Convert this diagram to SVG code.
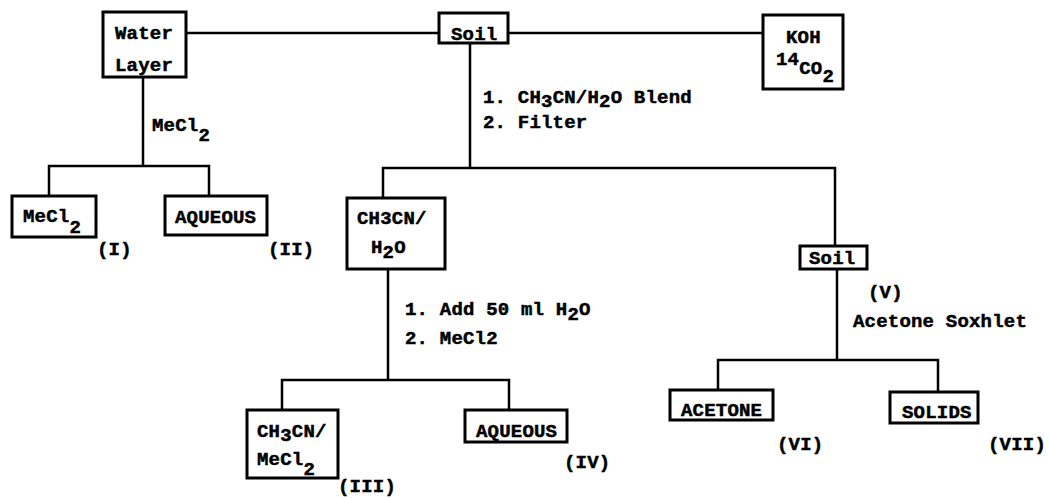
<svg xmlns="http://www.w3.org/2000/svg" width="1049" height="498" viewBox="0 0 1049 498">
<style>
.box{fill:#fff;stroke:#000;stroke-width:3}
.ln{fill:none;stroke:#000;stroke-width:2.5;stroke-linecap:square}
text{font-family:"Liberation Mono","DejaVu Sans Mono",monospace;font-weight:bold;font-size:19px;letter-spacing:0.2px;fill:#000;stroke:#000;stroke-width:0.5px}
</style>
<rect width="1049" height="498" fill="#fff"/>
<g id="connectors">
<path class="ln" d="M186 33H439M508 33H763"/>
<path class="ln" d="M143 77V166M49 166H209M49 166V196M209 166V196"/>
<path class="ln" d="M470 43V168M383 168H835M383 168V198M835 168V246"/>
<path class="ln" d="M388 270V380M282 380H509M282 380V410M509 380V410"/>
<path class="ln" d="M837 269V360M718 360H938M718 360V390M938 360V392"/>
</g>
<g id="labels">
<text x="152" y="131">MeCl<tspan dy="10">2</tspan></text>
<text x="483" y="103">1. CH<tspan dy="4">3</tspan><tspan dy="-4">CN/H</tspan><tspan dy="4">2</tspan><tspan dy="-4">O Blend</tspan></text>
<text x="483" y="128">2. Filter</text>
<text x="405" y="315">1. Add 50 ml H<tspan dy="5">2</tspan><tspan dy="-5">O</tspan></text>
<text x="405" y="344">2. MeCl2</text>
<text x="853" y="327">Acetone Soxhlet</text>
</g>
<g id="water-layer">
<rect class="box" x="103" y="12" width="83" height="65"/>
<text x="115" y="39">Water</text>
<text x="115" y="71">Layer</text>
</g>
<g id="soil-top">
<rect class="box" x="439" y="13" width="69" height="30"/>
<text x="451" y="40">Soil</text>
</g>
<g id="koh">
<rect class="box" x="763" y="15" width="80" height="74"/>
<text x="786" y="43">KOH</text>
<text x="776" y="65">14<tspan dy="9">CO</tspan><tspan dy="8">2</tspan></text>
</g>
<g id="mecl2-I">
<rect class="box" x="12" y="196" width="84" height="41"/>
<text x="23" y="222">MeCl<tspan dy="11">2</tspan></text>
<text x="97" y="255">(I)</text>
</g>
<g id="aqueous-II">
<rect class="box" x="165" y="196" width="102" height="39"/>
<text x="175" y="223">AQUEOUS</text>
<text x="268" y="255">(II)</text>
</g>
<g id="ch3cn-h2o">
<rect class="box" x="347" y="198" width="98" height="71"/>
<text x="357" y="224">CH3CN/</text>
<text x="371" y="253">H<tspan dy="5">2</tspan><tspan dy="-5">O</tspan></text>
</g>
<g id="soil-V">
<rect class="box" x="800" y="246" width="67" height="23"/>
<text x="809" y="264">Soil</text>
<text x="868" y="298">(V)</text>
</g>
<g id="ch3cn-mecl2-III">
<rect class="box" x="247" y="410" width="91" height="68"/>
<text x="257" y="437">CH<tspan dy="4">3</tspan><tspan dy="-4">CN/</tspan></text>
<text x="257" y="465">MeCl<tspan dy="10">2</tspan></text>
<text x="338" y="492">(III)</text>
</g>
<g id="aqueous-IV">
<rect class="box" x="465" y="410" width="102" height="32"/>
<text x="476" y="437">AQUEOUS</text>
<text x="564" y="468">(IV)</text>
</g>
<g id="acetone-VI">
<rect class="box" x="670" y="390" width="103" height="30"/>
<text x="681" y="416">ACETONE</text>
<text x="777" y="450">(VI)</text>
</g>
<g id="solids-VII">
<rect class="box" x="890" y="392" width="88" height="31"/>
<text x="902" y="418">SOLIDS</text>
<text x="988" y="450">(VII)</text>
</g>
</svg>
